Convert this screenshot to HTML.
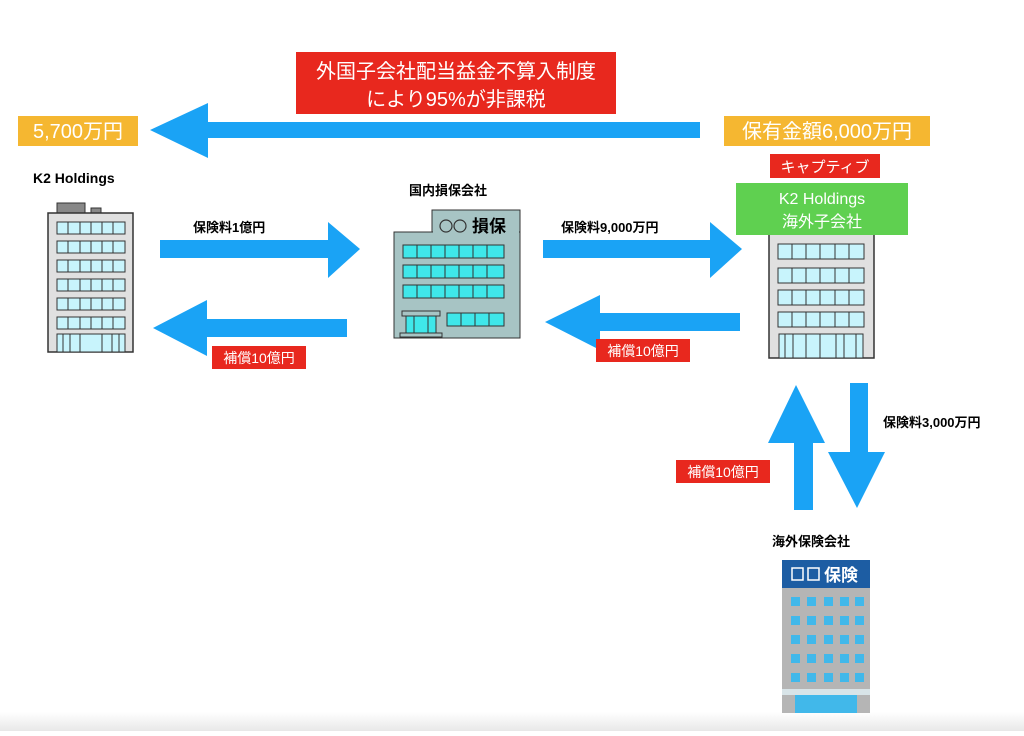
<!DOCTYPE html>
<html><head><meta charset="utf-8"><style>
body{margin:0;width:1024px;height:731px;overflow:hidden;background:#fff;font-family:"Liberation Sans","Noto Sans CJK JP",sans-serif}
svg text{font-family:"Liberation Sans","Noto Sans CJK JP",sans-serif}
</style></head><body>
<svg width="1024" height="731" viewBox="0 0 1024 731" xmlns="http://www.w3.org/2000/svg">
<defs><linearGradient id="bg" x1="0" y1="0" x2="0" y2="1"><stop offset="0" stop-color="#fff"/><stop offset="1" stop-color="#e8e8e8"/></linearGradient></defs>
<rect x="0" y="712" width="1024" height="19" fill="url(#bg)"/>
<!-- top arrow -->
<polygon points="700,122 208,122 208,103 150,130 208,158 208,138 700,138" fill="#1aa3f5"/>
<rect x="296" y="52" width="320" height="62" fill="#e8281e"/>
<text x="456" y="78" fill="#fff" font-size="20" text-anchor="middle">外国子会社配当益金不算入制度</text>
<text x="456" y="106" fill="#fff" font-size="20" text-anchor="middle">により95%が非課税</text>
<rect x="18" y="116" width="120" height="30" fill="#f5b731"/>
<text x="78" y="138" fill="#fff" font-size="20" text-anchor="middle">5,700万円</text>
<rect x="724" y="116" width="206" height="30" fill="#f5b731"/>
<text x="827" y="138" fill="#fff" font-size="20" text-anchor="middle">保有金額6,000万円</text>
<!-- building 1 -->
<text x="33" y="183" font-size="14" font-weight="bold">K2 Holdings</text>
<rect x="57" y="203" width="28" height="10" fill="#888" stroke="#333"/>
<rect x="91" y="208" width="10" height="5" fill="#888" stroke="#333"/>
<rect x="48" y="213" width="85" height="139" fill="#e0e0e0" stroke="#333" stroke-width="1.5"/>
<g fill="#c8f4fc" stroke="#333">
<rect x="57" y="222" width="68" height="12"/><rect x="57" y="241" width="68" height="12"/><rect x="57" y="260" width="68" height="12"/><rect x="57" y="279" width="68" height="12"/><rect x="57" y="298" width="68" height="12"/><rect x="57" y="317" width="68" height="12"/>
<rect x="57" y="334" width="68" height="18"/></g>
<g stroke="#333"><path d="M68 222V234M80 222V234M91 222V234M102 222V234M113 222V234M68 241V253M80 241V253M91 241V253M102 241V253M113 241V253M68 260V272M80 260V272M91 260V272M102 260V272M113 260V272M68 279V291M80 279V291M91 279V291M102 279V291M113 279V291M68 298V310M80 298V310M91 298V310M102 298V310M113 298V310M68 317V329M80 317V329M91 317V329M102 317V329M113 317V329M63 334V352M70 334V352M80 334V352M102 334V352M112 334V352M119 334V352"/></g>
<!-- arrows 1 -->
<polygon points="160,240 328,240 328,222 360,249 328,278 328,258 160,258" fill="#1aa3f5"/>
<text x="193" y="232" font-size="13" font-weight="bold">保険料1億円</text>
<polygon points="347,319 207,319 207,300 153,328 207,356 207,337 347,337" fill="#1aa3f5"/>
<rect x="212" y="346" width="94" height="23" fill="#e8281e"/>
<text x="259" y="363" fill="#fff" font-size="14" text-anchor="middle">補償10億円</text>
<!-- building 2 -->
<text x="409" y="195" font-size="13" font-weight="bold">国内損保会社</text>
<rect x="432" y="210" width="88" height="30" fill="#a7c4c4" stroke="#333"/>
<rect x="394" y="232" width="126" height="106" fill="#a7c4c4" stroke="#333"/>
<rect x="433" y="211" width="86" height="28" fill="#a7c4c4"/>
<circle cx="446" cy="226" r="6" fill="none" stroke="#333" stroke-width="1.2"/>
<circle cx="460" cy="226" r="6" fill="none" stroke="#333" stroke-width="1.2"/>
<text x="472" y="232" font-size="17" font-weight="bold">損保</text>
<g fill="#3fe7ea" stroke="#333"><rect x="403" y="245" width="101" height="13"/><rect x="403" y="265" width="101" height="13"/><rect x="403" y="285" width="101" height="13"/><rect x="447" y="313" width="57" height="13"/>
<rect x="402" y="311" width="38" height="5" fill="#a7c4c4"/><rect x="406" y="316" width="30" height="17"/><rect x="400" y="333" width="42" height="4" fill="#a7c4c4"/></g>
<g stroke="#333"><path d="M417 245V258M431 245V258M445 245V258M459 245V258M473 245V258M487 245V258M417 265V278M431 265V278M445 265V278M459 265V278M473 265V278M487 265V278M417 285V298M431 285V298M445 285V298M459 285V298M473 285V298M487 285V298M461 313V326M475 313V326M489 313V326M414 316V333M428 316V333"/></g>
<!-- arrows 2 -->
<polygon points="543,240 710,240 710,222 742,249 710,278 710,258 543,258" fill="#1aa3f5"/>
<text x="561" y="232" font-size="13" font-weight="bold">保険料9,000万円</text>
<polygon points="740,313 600,313 600,295 545,322 600,350 600,331 740,331" fill="#1aa3f5"/>
<rect x="596" y="339" width="94" height="23" fill="#e8281e"/>
<text x="643" y="356" fill="#fff" font-size="14" text-anchor="middle">補償10億円</text>
<!-- building 3 -->
<rect x="769" y="225" width="105" height="133" fill="#e0e0e0" stroke="#333" stroke-width="1.5"/>
<g fill="#c8f4fc" stroke="#333"><rect x="778" y="244" width="86" height="15"/><rect x="778" y="268" width="86" height="15"/><rect x="778" y="290" width="86" height="15"/><rect x="778" y="312" width="86" height="15"/><rect x="779" y="334" width="84" height="24"/></g>
<g stroke="#333"><path d="M792 244V259M806 244V259M820 244V259M835 244V259M849 244V259M792 268V283M806 268V283M820 268V283M835 268V283M849 268V283M792 290V305M806 290V305M820 290V305M835 290V305M849 290V305M792 312V327M806 312V327M820 312V327M835 312V327M849 312V327M785 334V358M793 334V358M806 334V358M820 334V358M836 334V358M844 334V358M856 334V358"/></g>
<rect x="770" y="154" width="110" height="24" fill="#e8281e"/>
<text x="825" y="172" fill="#fff" font-size="15" text-anchor="middle">キャプティブ</text>
<rect x="736" y="183" width="172" height="52" fill="#5fd050"/>
<text x="822" y="204" fill="#fff" font-size="16" text-anchor="middle">K2 Holdings</text>
<text x="822" y="227" fill="#fff" font-size="16" text-anchor="middle">海外子会社</text>
<!-- vertical arrows -->
<polygon points="794,510 794,443 768,443 796,385 825,443 813,443 813,510" fill="#1aa3f5"/>
<polygon points="850,383 868,383 868,452 885,452 857,508 828,452 850,452" fill="#1aa3f5"/>
<text x="883" y="427" font-size="13" font-weight="bold">保険料3,000万円</text>
<rect x="676" y="460" width="94" height="23" fill="#e8281e"/>
<text x="723" y="477" fill="#fff" font-size="14" text-anchor="middle">補償10億円</text>
<!-- building 4 -->
<text x="772" y="546" font-size="13" font-weight="bold">海外保険会社</text>
<rect x="782" y="588" width="88" height="125" fill="#b5b5b5"/>
<rect x="782" y="560" width="88" height="28" fill="#1d5da3"/>
<rect x="792" y="568" width="11" height="12" fill="none" stroke="#fff" stroke-width="1.5"/>
<rect x="808" y="568" width="11" height="12" fill="none" stroke="#fff" stroke-width="1.5"/>
<text x="824" y="581" fill="#fff" font-size="17" font-weight="bold">保険</text>
<g fill="#41b8ea">
<rect x="791" y="597" width="9" height="9"/><rect x="807" y="597" width="9" height="9"/><rect x="824" y="597" width="9" height="9"/><rect x="840" y="597" width="9" height="9"/><rect x="855" y="597" width="9" height="9"/>
<rect x="791" y="616" width="9" height="9"/><rect x="807" y="616" width="9" height="9"/><rect x="824" y="616" width="9" height="9"/><rect x="840" y="616" width="9" height="9"/><rect x="855" y="616" width="9" height="9"/>
<rect x="791" y="635" width="9" height="9"/><rect x="807" y="635" width="9" height="9"/><rect x="824" y="635" width="9" height="9"/><rect x="840" y="635" width="9" height="9"/><rect x="855" y="635" width="9" height="9"/>
<rect x="791" y="654" width="9" height="9"/><rect x="807" y="654" width="9" height="9"/><rect x="824" y="654" width="9" height="9"/><rect x="840" y="654" width="9" height="9"/><rect x="855" y="654" width="9" height="9"/>
<rect x="791" y="673" width="9" height="9"/><rect x="807" y="673" width="9" height="9"/><rect x="824" y="673" width="9" height="9"/><rect x="840" y="673" width="9" height="9"/><rect x="855" y="673" width="9" height="9"/></g>
<rect x="782" y="689" width="88" height="6" fill="#d8e4e8"/>
<rect x="795" y="695" width="62" height="18" fill="#41b8ea"/>
</svg>
</body></html>
